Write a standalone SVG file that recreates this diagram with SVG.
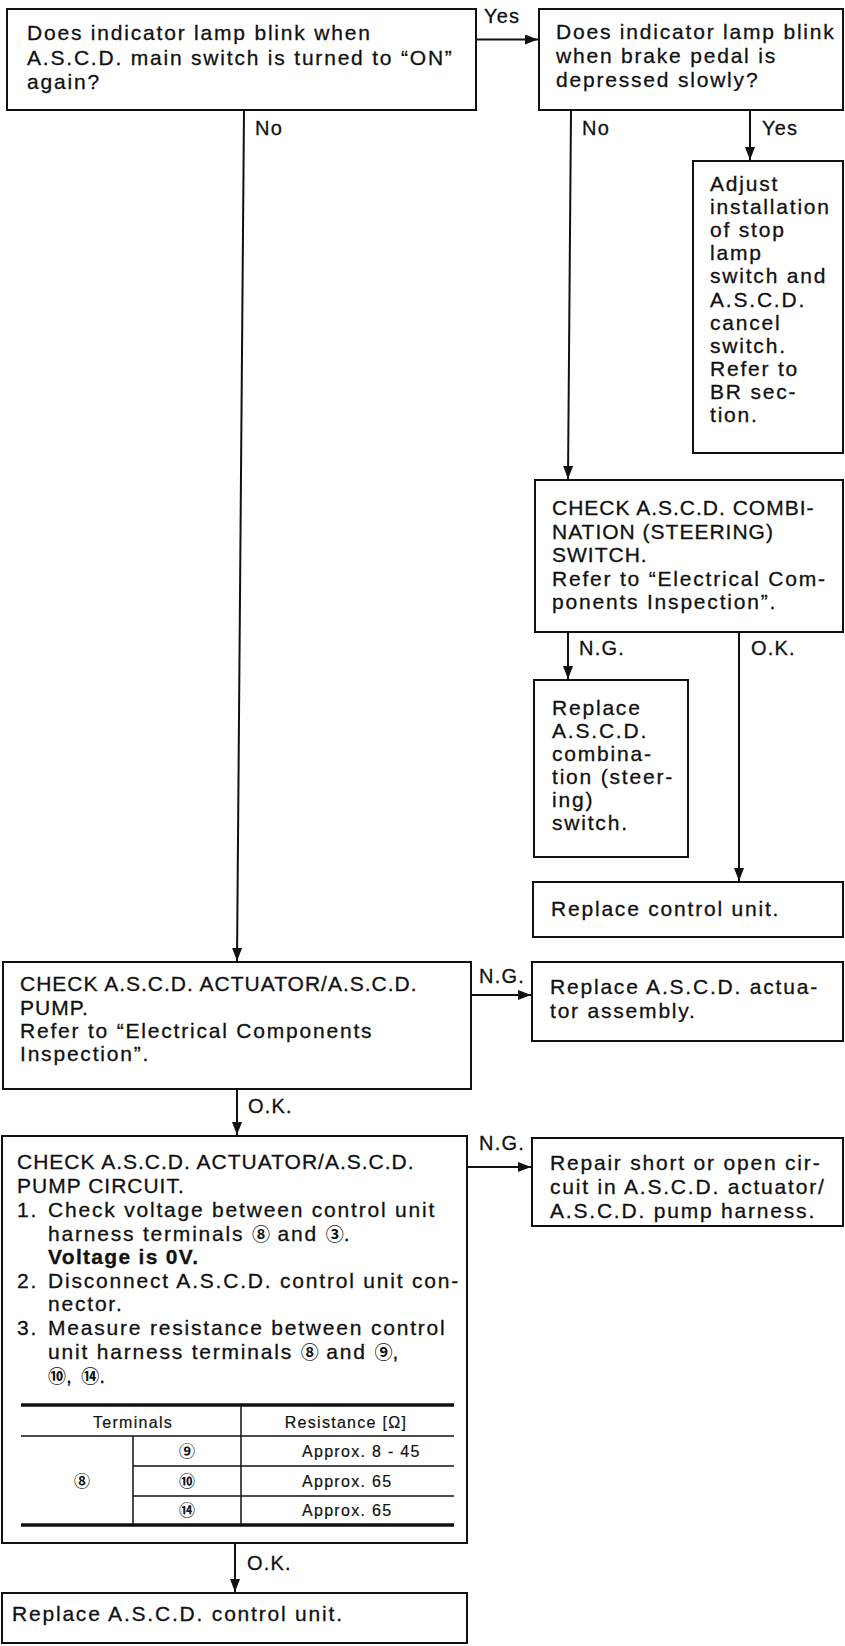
<svg xmlns="http://www.w3.org/2000/svg" width="845" height="1646" viewBox="0 0 845 1646">
<style>
  .box{fill:#fff;stroke:#111;stroke-width:2}
  .t{font-family:"Liberation Sans",Arial,sans-serif;font-size:21px;letter-spacing:1.8px;fill:#111;stroke:#111;stroke-width:0.3}
  .caps{letter-spacing:1px}
  .lbl{font-family:"Liberation Sans",Arial,sans-serif;font-size:20px;letter-spacing:1.2px;fill:#111;stroke:#111;stroke-width:0.3}
  .c{font-family:"Noto Sans CJK JP","Noto Sans CJK SC",sans-serif;font-size:18px;font-weight:bold;letter-spacing:0;stroke-width:0}
  .tb{font-family:"Liberation Sans",Arial,sans-serif;font-size:16px;letter-spacing:1.3px;fill:#111;stroke:#111;stroke-width:0.2}
  .tbc{font-family:"Noto Sans CJK JP","Noto Sans CJK SC",sans-serif;font-size:16px;font-weight:bold;fill:#111}
  .con{fill:none;stroke:#111;stroke-width:2}
  .thick{stroke:#111;stroke-width:3.5}
  .thin{stroke:#111;stroke-width:1.5}
</style>
<defs>
  <marker id="ah" markerUnits="userSpaceOnUse" markerWidth="14" markerHeight="12" refX="13" refY="5" orient="auto">
    <path d="M0,0 L13,5 L0,10 z" fill="#111"/>
  </marker>
</defs>
<rect x="0" y="0" width="845" height="1646" fill="#fff"/>

<g id="connectors">
  <path class="con" d="M476,39.5 H538" marker-end="url(#ah)"/>
  <path class="con" d="M244,110 L237,961" marker-end="url(#ah)"/>
  <path class="con" d="M571,110 L568,479" marker-end="url(#ah)"/>
  <path class="con" d="M750,110 V160" marker-end="url(#ah)"/>
  <path class="con" d="M568,632 V679" marker-end="url(#ah)"/>
  <path class="con" d="M739,632 V881" marker-end="url(#ah)"/>
  <path class="con" d="M471,995 H531" marker-end="url(#ah)"/>
  <path class="con" d="M237,1089 V1135" marker-end="url(#ah)"/>
  <path class="con" d="M467,1167 H531" marker-end="url(#ah)"/>
  <path class="con" d="M235,1543 V1592" marker-end="url(#ah)"/>
  <text class="lbl" x="484" y="23">Yes</text>
  <text class="lbl" x="255" y="135">No</text>
  <text class="lbl" x="582" y="135">No</text>
  <text class="lbl" x="762" y="135">Yes</text>
  <text class="lbl" x="579" y="655">N.G.</text>
  <text class="lbl" x="751" y="655">O.K.</text>
  <text class="lbl" x="479" y="983">N.G.</text>
  <text class="lbl" x="248" y="1113">O.K.</text>
  <text class="lbl" x="479" y="1150">N.G.</text>
  <text class="lbl" x="247" y="1570">O.K.</text>
</g>

<g id="q1">
  <rect class="box" x="7" y="9" width="469" height="101"/>
  <text class="t" x="27" y="40">Does indicator lamp blink when</text>
  <text class="t" x="27" y="64.5">A.S.C.D. main switch is turned to “ON”</text>
  <text class="t" x="27" y="89">again?</text>
</g>

<g id="q2">
  <rect class="box" x="539" y="9" width="304" height="101"/>
  <text class="t" x="556" y="39">Does indicator lamp blink</text>
  <text class="t" x="556" y="63">when brake pedal is</text>
  <text class="t" x="556" y="87">depressed slowly?</text>
</g>

<g id="adjust">
  <rect class="box" x="693" y="161" width="150" height="292"/>
  <text class="t" x="710" y="191">Adjust</text>
  <text class="t" x="710" y="214.1">installation</text>
  <text class="t" x="710" y="237.2">of stop</text>
  <text class="t" x="710" y="260.3">lamp</text>
  <text class="t" x="710" y="283.4">switch and</text>
  <text class="t" x="710" y="306.5">A.S.C.D.</text>
  <text class="t" x="710" y="329.6">cancel</text>
  <text class="t" x="710" y="352.7">switch.</text>
  <text class="t" x="710" y="375.8">Refer to</text>
  <text class="t" x="710" y="398.9">BR sec-</text>
  <text class="t" x="710" y="422">tion.</text>
</g>

<g id="combi">
  <rect class="box" x="535" y="480" width="308" height="152"/>
  <text class="t caps" x="552" y="515">CHECK A.S.C.D. COMBI-</text>
  <text class="t caps" x="552" y="538.5">NATION (STEERING)</text>
  <text class="t caps" x="552" y="562">SWITCH.</text>
  <text class="t" x="552" y="585.5">Refer to “Electrical Com-</text>
  <text class="t" x="552" y="609">ponents Inspection”.</text>
</g>

<g id="replace-combi">
  <rect class="box" x="534" y="680" width="154" height="177"/>
  <text class="t" x="552" y="715">Replace</text>
  <text class="t" x="552" y="738">A.S.C.D.</text>
  <text class="t" x="552" y="761">combina-</text>
  <text class="t" x="552" y="784">tion (steer-</text>
  <text class="t" x="552" y="807">ing)</text>
  <text class="t" x="552" y="830">switch.</text>
</g>

<g id="replace-cu">
  <rect class="box" x="533" y="882" width="310" height="55"/>
  <text class="t" x="551" y="916">Replace control unit.</text>
</g>

<g id="check-actuator">
  <rect class="box" x="3" y="962" width="468" height="127"/>
  <text class="t caps" x="20" y="991">CHECK A.S.C.D. ACTUATOR/A.S.C.D.</text>
  <text class="t caps" x="20" y="1014.5">PUMP.</text>
  <text class="t" x="20" y="1038">Refer to “Electrical Components</text>
  <text class="t" x="20" y="1061">Inspection”.</text>
</g>

<g id="replace-actuator">
  <rect class="box" x="532" y="962" width="311" height="79"/>
  <text class="t" x="550" y="994">Replace A.S.C.D. actua-</text>
  <text class="t" x="550" y="1018">tor assembly.</text>
</g>

<g id="check-circuit">
  <rect class="box" x="2" y="1136" width="465" height="407"/>
  <text class="t caps" x="17" y="1169">CHECK A.S.C.D. ACTUATOR/A.S.C.D.</text>
  <text class="t caps" x="17" y="1193">PUMP CIRCUIT.</text>
  <text class="t" x="17" y="1217">1.</text>
  <text class="t" x="48" y="1217">Check voltage between control unit</text>
  <text class="t" x="48" y="1241">harness terminals <tspan class="c">⑧</tspan> and <tspan class="c">③</tspan>.</text>
  <text class="t" x="48" y="1264" font-weight="bold" style="letter-spacing:1.3px">Voltage is 0V.</text>
  <text class="t" x="17" y="1288">2.</text>
  <text class="t" x="48" y="1288">Disconnect A.S.C.D. control unit con-</text>
  <text class="t" x="48" y="1311">nector.</text>
  <text class="t" x="17" y="1335">3.</text>
  <text class="t" x="48" y="1335">Measure resistance between control</text>
  <text class="t" x="48" y="1359">unit harness terminals <tspan class="c">⑧</tspan> and <tspan class="c">⑨</tspan>,</text>
  <text class="t" x="48" y="1383"><tspan class="c">⑩</tspan>, <tspan class="c">⑭</tspan>.</text>
  <g id="table">
    <line class="thick" x1="21" y1="1405" x2="454" y2="1405"/>
    <line class="thin" x1="21" y1="1436" x2="454" y2="1436"/>
    <line class="thin" x1="133" y1="1466" x2="454" y2="1466"/>
    <line class="thin" x1="133" y1="1496" x2="454" y2="1496"/>
    <line class="thick" x1="21" y1="1525" x2="454" y2="1525"/>
    <line class="thin" x1="241" y1="1405" x2="241" y2="1525"/>
    <line class="thin" x1="133" y1="1436" x2="133" y2="1525"/>
    <text class="tb" x="133" y="1428" text-anchor="middle">Terminals</text>
    <text class="tb" x="346" y="1428" text-anchor="middle">Resistance [Ω]</text>
    <text class="tbc" x="187" y="1457" text-anchor="middle">⑨</text>
    <text class="tbc" x="82" y="1487" text-anchor="middle">⑧</text>
    <text class="tbc" x="187" y="1487" text-anchor="middle">⑩</text>
    <text class="tbc" x="187" y="1516" text-anchor="middle">⑭</text>
    <text class="tb" x="302" y="1457">Approx. 8 - 45</text>
    <text class="tb" x="302" y="1487">Approx. 65</text>
    <text class="tb" x="302" y="1516">Approx. 65</text>
  </g>
</g>

<g id="repair">
  <rect class="box" x="532" y="1138" width="311" height="88"/>
  <text class="t" x="550" y="1170">Repair short or open cir-</text>
  <text class="t" x="550" y="1194">cuit in A.S.C.D. actuator/</text>
  <text class="t" x="550" y="1218">A.S.C.D. pump harness.</text>
</g>

<g id="replace-ascd-cu">
  <rect class="box" x="2" y="1593" width="465" height="50"/>
  <text class="t" x="12" y="1621">Replace A.S.C.D. control unit.</text>
</g>
</svg>
